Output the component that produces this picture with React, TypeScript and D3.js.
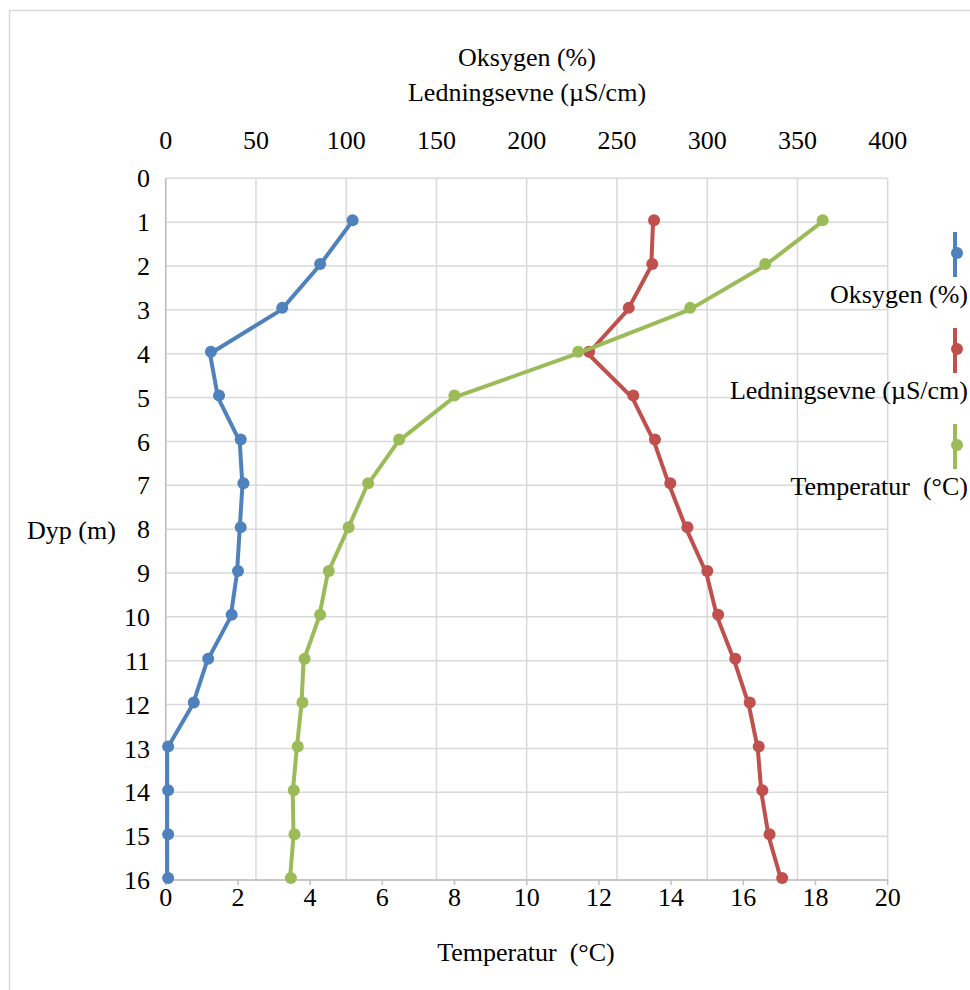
import * as React from "react";
import * as d3 from "d3";

// depth profile
const depths = [1, 2, 3, 4, 5, 6, 7, 8, 9, 10, 11, 12, 13, 14, 15, 16];
const oxygen = [103, 85, 64, 24.5, 29, 41, 42.5, 41, 39.5, 36, 23, 15, 0.8, 0.8, 0.8, 0.8];
const conductivity = [270, 269, 256, 234, 258.5, 270.5, 279, 288.5, 299.5, 305.5, 315, 323, 328, 330, 334, 341];
const temperature = [18.17, 16.58, 14.5, 11.4, 7.97, 6.44, 5.58, 5.04, 4.49, 4.25, 3.82, 3.76, 3.63, 3.52, 3.54, 3.44];

const topTicks = [0, 50, 100, 150, 200, 250, 300, 350, 400];
const bottomTicks = [0, 2, 4, 6, 8, 10, 12, 14, 16, 18, 20];
const depthTicks = [0, 1, 2, 3, 4, 5, 6, 7, 8, 9, 10, 11, 12, 13, 14, 15, 16];

const seriesNames = ["Oksygen (%)", "Ledningsevne (\u00b5S/cm)", "Temperatur  (\u00b0C)"];
const seriesColors = ["#4f81bd", "#c0504d", "#9bbb59"];

const W = 970;
const H = 990;
const FONT = "Liberation Serif";
const FS = 26;

const left = 165.7, right = 887.7, top = 178.3, bottom = 880;

const xTop = d3.scaleLinear().domain([0, 400]).range([left, right]);
const xBottom = d3.scaleLinear().domain([0, 20]).range([left, right]);
const y = d3.scaleLinear().domain([0, 16]).range([top, bottom]);

const series = [
  { values: oxygen, x: xTop },
  { values: conductivity, x: xTop },
  { values: temperature, x: xBottom },
];

const txt = { fontFamily: FONT, fontSize: FS + "px", whiteSpace: "pre" as const };

const App = () => {
  return (
    <svg
      width={W}
      height={H}
      style={{ position: "absolute", left: 0, top: 0, background: "#fff" }}
    >
      {/* chart frame */}
      <rect x={9.5} y={10.5} width={W} height={H} fill="#fff" stroke="#d9d9d9" strokeWidth={1.5} />

      {/* gridlines */}
      <g stroke="#d9d9d9" strokeWidth={1.5}>
        {topTicks.map(d => (
          <line key={"v" + d} x1={xTop(d)} x2={xTop(d)} y1={top} y2={bottom} />
        ))}
        {depthTicks.map(d => (
          <line key={"h" + d} x1={left} x2={right} y1={y(d)} y2={y(d)} />
        ))}
      </g>

      {/* axis lines */}
      <g stroke="#bfbfbf" strokeWidth={1.5}>
        <line x1={left} x2={left} y1={top} y2={bottom} />
        <line x1={left} x2={right} y1={bottom} y2={bottom} />
        {bottomTicks.map(d => (
          <line key={"t" + d} x1={xBottom(d)} x2={xBottom(d)} y1={bottom} y2={bottom + 5} />
        ))}
      </g>

      {/* tick labels */}
      {topTicks.map(d => (
        <text key={"tl" + d} x={xTop(d)} y={149} textAnchor="middle" style={txt}>{d}</text>
      ))}
      {bottomTicks.map(d => (
        <text key={"bl" + d} x={xBottom(d)} y={906} textAnchor="middle" style={txt}>{d}</text>
      ))}
      {depthTicks.map(d => (
        <text key={"dl" + d} x={150} y={y(d)} dy="0.35em" textAnchor="end" style={txt}>{d}</text>
      ))}

      {/* axis titles */}
      <text x={527} y={66} textAnchor="middle" style={txt}>Oksygen (%)</text>
      <text x={527} y={101} textAnchor="middle" style={txt}>{"Ledningsevne (\u00b5S/cm)"}</text>
      <text x={526} y={961} textAnchor="middle" style={txt}>{"Temperatur  (\u00b0C)"}</text>
      <text x={27} y={539} style={txt}>Dyp (m)</text>

      {/* series */}
      {series.map((s, i) => {
        const pts = depths.map((d, j) => [s.x(s.values[j]), y(d)] as [number, number]);
        return (
          <g key={"s" + i}>
            <path
              d={d3.line()(pts) || ""}
              fill="none"
              stroke={seriesColors[i]}
              strokeWidth={4}
              strokeLinejoin="round"
            />
            {pts.map((p, j) => (
              <circle key={j} cx={p[0] + 1} cy={p[1] - 2} r={6} fill={seriesColors[i]} />
            ))}
          </g>
        );
      })}

      {/* legend */}
      {seriesNames.map((name, i) => {
        const y0 = 232 + i * 96;
        return (
          <g key={"lg" + i}>
            <line x1={955} x2={955} y1={y0} y2={y0 + 45} stroke={seriesColors[i]} strokeWidth={4} />
            <circle cx={957} cy={y0 + 21} r={6} fill={seriesColors[i]} />
            <text x={968} y={y0 + 71} textAnchor="end" style={txt}>{name}</text>
          </g>
        );
      })}
    </svg>
  );
};

export default App;
